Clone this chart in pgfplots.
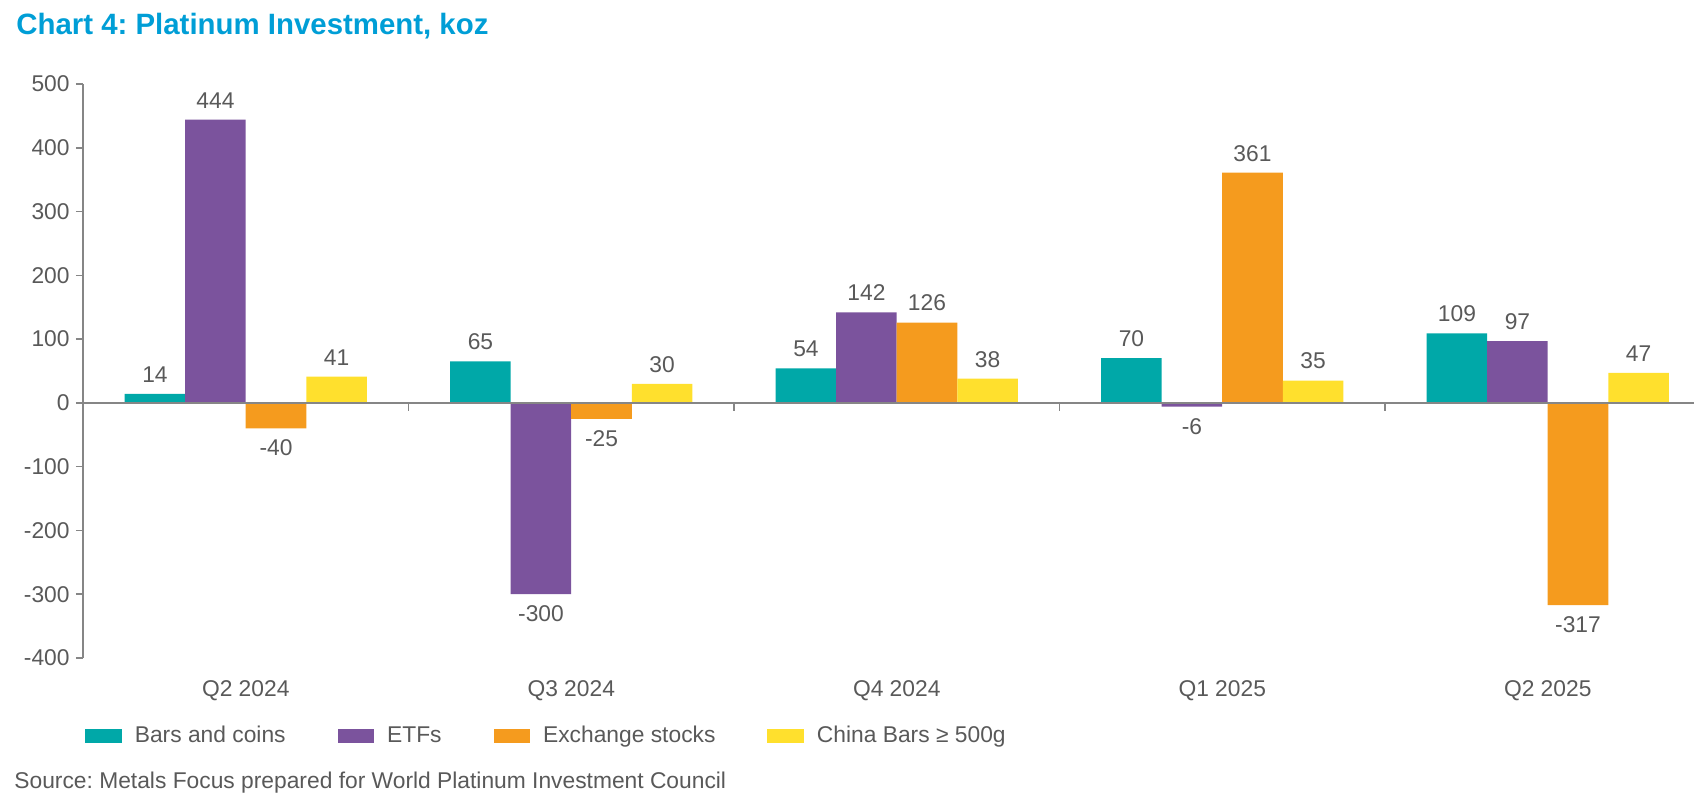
\documentclass[border=0pt]{standalone}
\usepackage{fontspec}
\setmainfont{Liberation Sans}
\usepackage{pgfplots}
\pgfplotsset{compat=1.18}
\frenchspacing
\definecolor{cteal}{RGB}{0,168,168}
\definecolor{cpurple}{RGB}{123,83,157}
\definecolor{corange}{RGB}{245,155,30}
\definecolor{cyellow}{RGB}{255,224,45}
\definecolor{ctitle}{RGB}{0,158,214}
\definecolor{ctext}{RGB}{89,89,89}
\definecolor{caxis}{RGB}{134,134,134}
\newcommand{\lbl}{\fontsize{11.4}{13}\selectfont}
\begin{document}
\begin{tikzpicture}
\useasboundingbox (0,0) rectangle (847pt,-403pt);
\node[anchor=base west, inner sep=0pt, text=ctitle, font=\fontsize{14.7}{17}\selectfont\bfseries] at (8pt,-17.5pt) {Chart 4: Platinum Investment, koz};
\node[anchor=base west, inner sep=0pt, text=ctext, font=\lbl] at (7pt,-394.5pt) {Source: Metals Focus prepared for World Platinum Investment Council};
\begin{axis}[
  at={(41.5pt,-329pt)}, anchor=south west,
  scale only axis, width=813.75pt, height=287pt,
  xmin=-0.5, xmax=4.5, ymin=-400, ymax=500,
  enlargelimits=false,
  clip=false,
  ybar=0pt, bar width=0.186,
  axis y line*=left, axis x line*=bottom,
  axis line style={-},
  x axis line style={draw=none},
  y axis line style={caxis, line width=0.75pt},
  xtick={0,1,2,3,4},
  xticklabels={Q2 2024,Q3 2024,Q4 2024,Q1 2025,Q2 2025},
  xtick style={draw=none},
  xticklabel style={anchor=north, inner sep=0pt, yshift=-7.5pt, text=ctext, font=\lbl},
  ytick={-400,-300,-200,-100,0,100,200,300,400,500},
  yticklabels={-400,-300,-200,-100,0,100,200,300,400,500},
  tick align=outside,
  major tick length=3.5pt,
  ytick style={caxis, line width=0.75pt},
  yticklabel style={anchor=east, inner sep=0pt, xshift=-3pt, text=ctext, font=\lbl},
  point meta=y,
  nodes near coords={\pgfmathprintnumber[assume math mode=true, int detect]{\pgfplotspointmeta}},
  nodes near coords style={text=ctext, font=\lbl, inner sep=5.5pt},
  legend columns=4,
  legend image code/.code={\fill[#1, draw=none] (0pt,-3.5pt) rectangle (18.25pt,3.5pt);},
  legend style={at={(axis description cs:0.0012,-0.1359)}, anchor=west, draw=none, fill=none, inner sep=0pt,
    font=\lbl, text=ctext, nodes={inner sep=0pt},
    /tikz/every odd column/.append style={column sep=6.5pt},
    /tikz/every even column/.append style={column sep=26pt}},
]
\addplot[fill=cteal, draw=none] coordinates {(0,14) (1,65) (2,54) (3,70) (4,109)};
\addplot[fill=cpurple, draw=none] coordinates {(0,444) (1,-300) (2,142) (3,-6) (4,97)};
\addplot[fill=corange, draw=none] coordinates {(0,-40) (1,-25) (2,126) (3,361) (4,-317)};
\addplot[fill=cyellow, draw=none] coordinates {(0,41) (1,30) (2,38) (3,35) (4,47)};
\legend{Bars and coins, ETFs, Exchange stocks, China Bars ≥ 500g}
\draw[caxis, line width=0.75pt] (axis cs:-0.5,0) -- (axis cs:4.5,0);
\pgfplotsinvokeforeach{0.5,1.5,2.5,3.5}{\draw[caxis, line width=0.75pt] (axis cs:#1,0) -- ++(0pt,-4pt);}
\end{axis}
\end{tikzpicture}
\end{document}
